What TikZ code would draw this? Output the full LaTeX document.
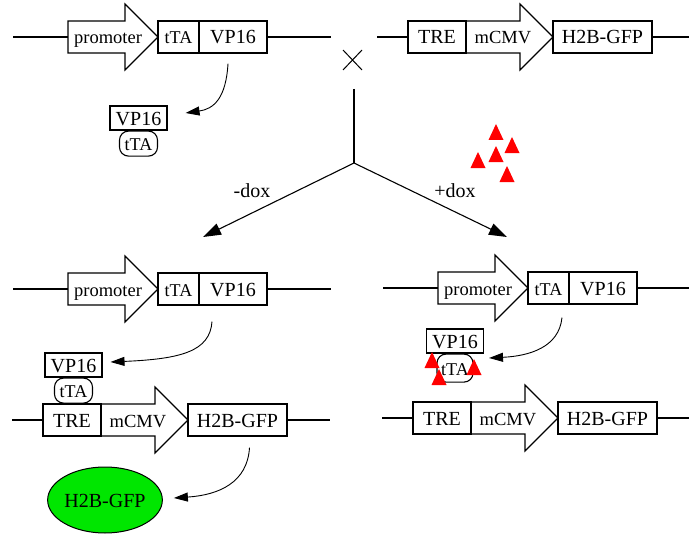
\documentclass[tikz,border=0pt]{standalone}
\usepackage{fontspec}
\setmainfont{Liberation Serif}
\usetikzlibrary{positioning, arrows.meta, shapes.geometric}
\definecolor{gfpgreen}{RGB}{0,230,0}
\definecolor{doxred}{RGB}{255,0,0}

\begin{document}
\begin{tikzpicture}[x=1pt, y=-1pt,
    dna/.style={line width=1.1pt},
    gene/.style={rectangle, draw, line width=1.1pt, minimum height=32pt, inner sep=0pt, text height=14pt, text depth=0pt, font=\fontsize{20}{24}\selectfont},
    smallgene/.style={gene, font=\fontsize{18}{22}\selectfont},
    hollow/.style={draw, line width=1.1pt, line join=miter},
    label/.style={inner sep=0pt, text height=14pt, text depth=0pt, font=\fontsize{18.5}{22}\selectfont},
    protein/.style={rectangle, draw, line width=1.1pt, minimum width=57pt, minimum height=24pt, inner sep=0pt, text height=14pt, text depth=0pt, font=\fontsize{20}{24}\selectfont},
    binder/.style={protein, rounded corners=9pt, minimum width=38pt, minimum height=25pt, font=\fontsize{18}{22}\selectfont},
    express/.style={-{Triangle[length=14pt, width=9pt]}, line width=0.9pt},
    split/.style={-{Triangle[length=18pt, width=12pt]}, line width=1.1pt}
]
    \useasboundingbox (0,0) rectangle (689,535);

    % promoter - tTA - VP16 constructs
    \begin{scope}[shift={(68,37)}]
        \draw[dna] (-55,0) -- (0,0);
        \draw[hollow] (0,-16) -- (57,-16) -- (57,-33) -- (90,0) -- (57,33) -- (57,16) -- (0,16) -- cycle;
        \node[label] (prom1) at (40,0) {promoter};
        \node[smallgene, minimum width=41pt] (tta1) at (110.5,0) {tTA};
        \node[gene, minimum width=68pt] (vp1) at (165,0) {VP16};
        \draw[dna] (vp1.east) -- ++(63,0);
    \end{scope}
    \begin{scope}[shift={(68,289)}]
        \draw[dna] (-55,0) -- (0,0);
        \draw[hollow] (0,-16) -- (57,-16) -- (57,-33) -- (90,0) -- (57,33) -- (57,16) -- (0,16) -- cycle;
        \node[label] (prom2) at (40,0) {promoter};
        \node[smallgene, minimum width=41pt] (tta2) at (110.5,0) {tTA};
        \node[gene, minimum width=68pt] (vp2) at (165,0) {VP16};
        \draw[dna] (vp2.east) -- ++(63,0);
    \end{scope}
    \begin{scope}[shift={(438,288)}]
        \draw[dna] (-55,0) -- (0,0);
        \draw[hollow] (0,-16) -- (57,-16) -- (57,-33) -- (90,0) -- (57,33) -- (57,16) -- (0,16) -- cycle;
        \node[label] (prom3) at (40,0) {promoter};
        \node[smallgene, minimum width=41pt] (tta3) at (110.5,0) {tTA};
        \node[gene, minimum width=68pt] (vp3) at (165,0) {VP16};
        \draw[dna] (vp3.east) -- ++(60,0);
    \end{scope}

    % TRE - mCMV - H2B-GFP constructs
    \begin{scope}[shift={(408,37)}]
        \draw[dna] (-31,0) -- (0,0);
        \node[gene, minimum width=58pt] (tre1) at (29,0) {TRE};
        \draw[hollow] (58,-16) -- (112,-16) -- (112,-33) -- (145,0) -- (112,33) -- (112,16) -- (58,16);
        \node[label] (cmv1) at (95,0) {mCMV};
        \node[gene, minimum width=99pt] (gfp1) at (194.5,0) {H2B-GFP};
        \draw[dna] (gfp1.east) -- ++(40,0);
    \end{scope}
    \begin{scope}[shift={(43,420)}]
        \draw[dna] (-31,0) -- (0,0);
        \node[gene, minimum width=58pt] (tre2) at (29,0) {TRE};
        \draw[hollow] (58,-16) -- (112,-16) -- (112,-33) -- (145,0) -- (112,33) -- (112,16) -- (58,16);
        \node[label] (cmv2) at (95,0) {mCMV};
        \node[gene, minimum width=99pt] (gfp2) at (194.5,0) {H2B-GFP};
        \draw[dna] (gfp2.east) -- ++(42,0);
    \end{scope}
    \begin{scope}[shift={(413,418)}]
        \draw[dna] (-31,0) -- (0,0);
        \node[gene, minimum width=58pt] (tre3) at (29,0) {TRE};
        \draw[hollow] (58,-16) -- (112,-16) -- (112,-33) -- (145,0) -- (112,33) -- (112,16) -- (58,16);
        \node[label] (cmv3) at (95,0) {mCMV};
        \node[gene, minimum width=99pt] (gfp3) at (194.5,0) {H2B-GFP};
        \draw[dna] (gfp3.east) -- ++(40,0);
    \end{scope}

    % cross
    \draw[line width=1pt] (343,50) -- (362,70) (343,70) -- (362,50);

    % fork
    \coordinate (stem) at (354,89);
    \coordinate (fork) at (354,163);
    \coordinate (minus) at (203,237);
    \coordinate (plus) at (507,237);
    \draw[dna] (stem) -- (fork);
    \draw[split] (fork) -- (minus);
    \draw[split] (fork) -- (plus);
    \node[label, font=\fontsize{20}{24}\selectfont] (minuslabel) at (252,190) {-dox};
    \node[label, font=\fontsize{20}{24}\selectfont] (pluslabel) at (455,190) {+dox};

    % proteins
    \node[protein] (vpa) at (138.5,118) {VP16};
    \node[binder, below=0pt of vpa] (ttaa) {tTA};
    \node[protein] (vpb) at (73.5,365) {VP16};
    \node[binder, below=0pt of vpb] (ttab) {tTA};
    \node[protein] (vpc) at (455,341) {VP16};
    \node[binder, below=0pt of vpc, minimum width=36pt, minimum height=28pt] (ttac) {tTA};
    \node[ellipse, draw, fill=gfpgreen, line width=1pt, minimum width=114pt, minimum height=66pt, inner sep=0pt,
          text height=14pt, text depth=0pt, font=\fontsize{20}{24}\selectfont] (gfpout) at (105,500) {H2B-GFP};

    % expression
    \draw[express] ([shift={(-5,10)}]vp1.south) .. controls +(-2,35) and +(28,-4) .. ([shift={(18,-5)}]vpa.east);
    \draw[express] ([shift={(-21,16)}]vp2.south) .. controls +(-2,30) and +(70,-3) .. ([shift={(8,-3)}]vpb.east);
    \draw[express] ([shift={(12,11)}]gfp2.south) .. controls +(-2,35) and +(45,-3) .. ([shift={(11,-2)}]gfpout.east);
    \draw[express] ([shift={(-41,13)}]vp3.south) .. controls +(-3,30) and +(40,-2) .. ([shift={(5,17)}]vpc.east);

    % doxycycline
    \foreach \tx/\ty in {496/132, 512/145, 496/154, 478/160, 507/174, 432/360, 439/377, 474/367}
        \fill[doxred] (\tx-7.5,\ty+8) -- (\tx,\ty-8) -- (\tx+7.5,\ty+8) -- cycle;
\end{tikzpicture}
\end{document}
